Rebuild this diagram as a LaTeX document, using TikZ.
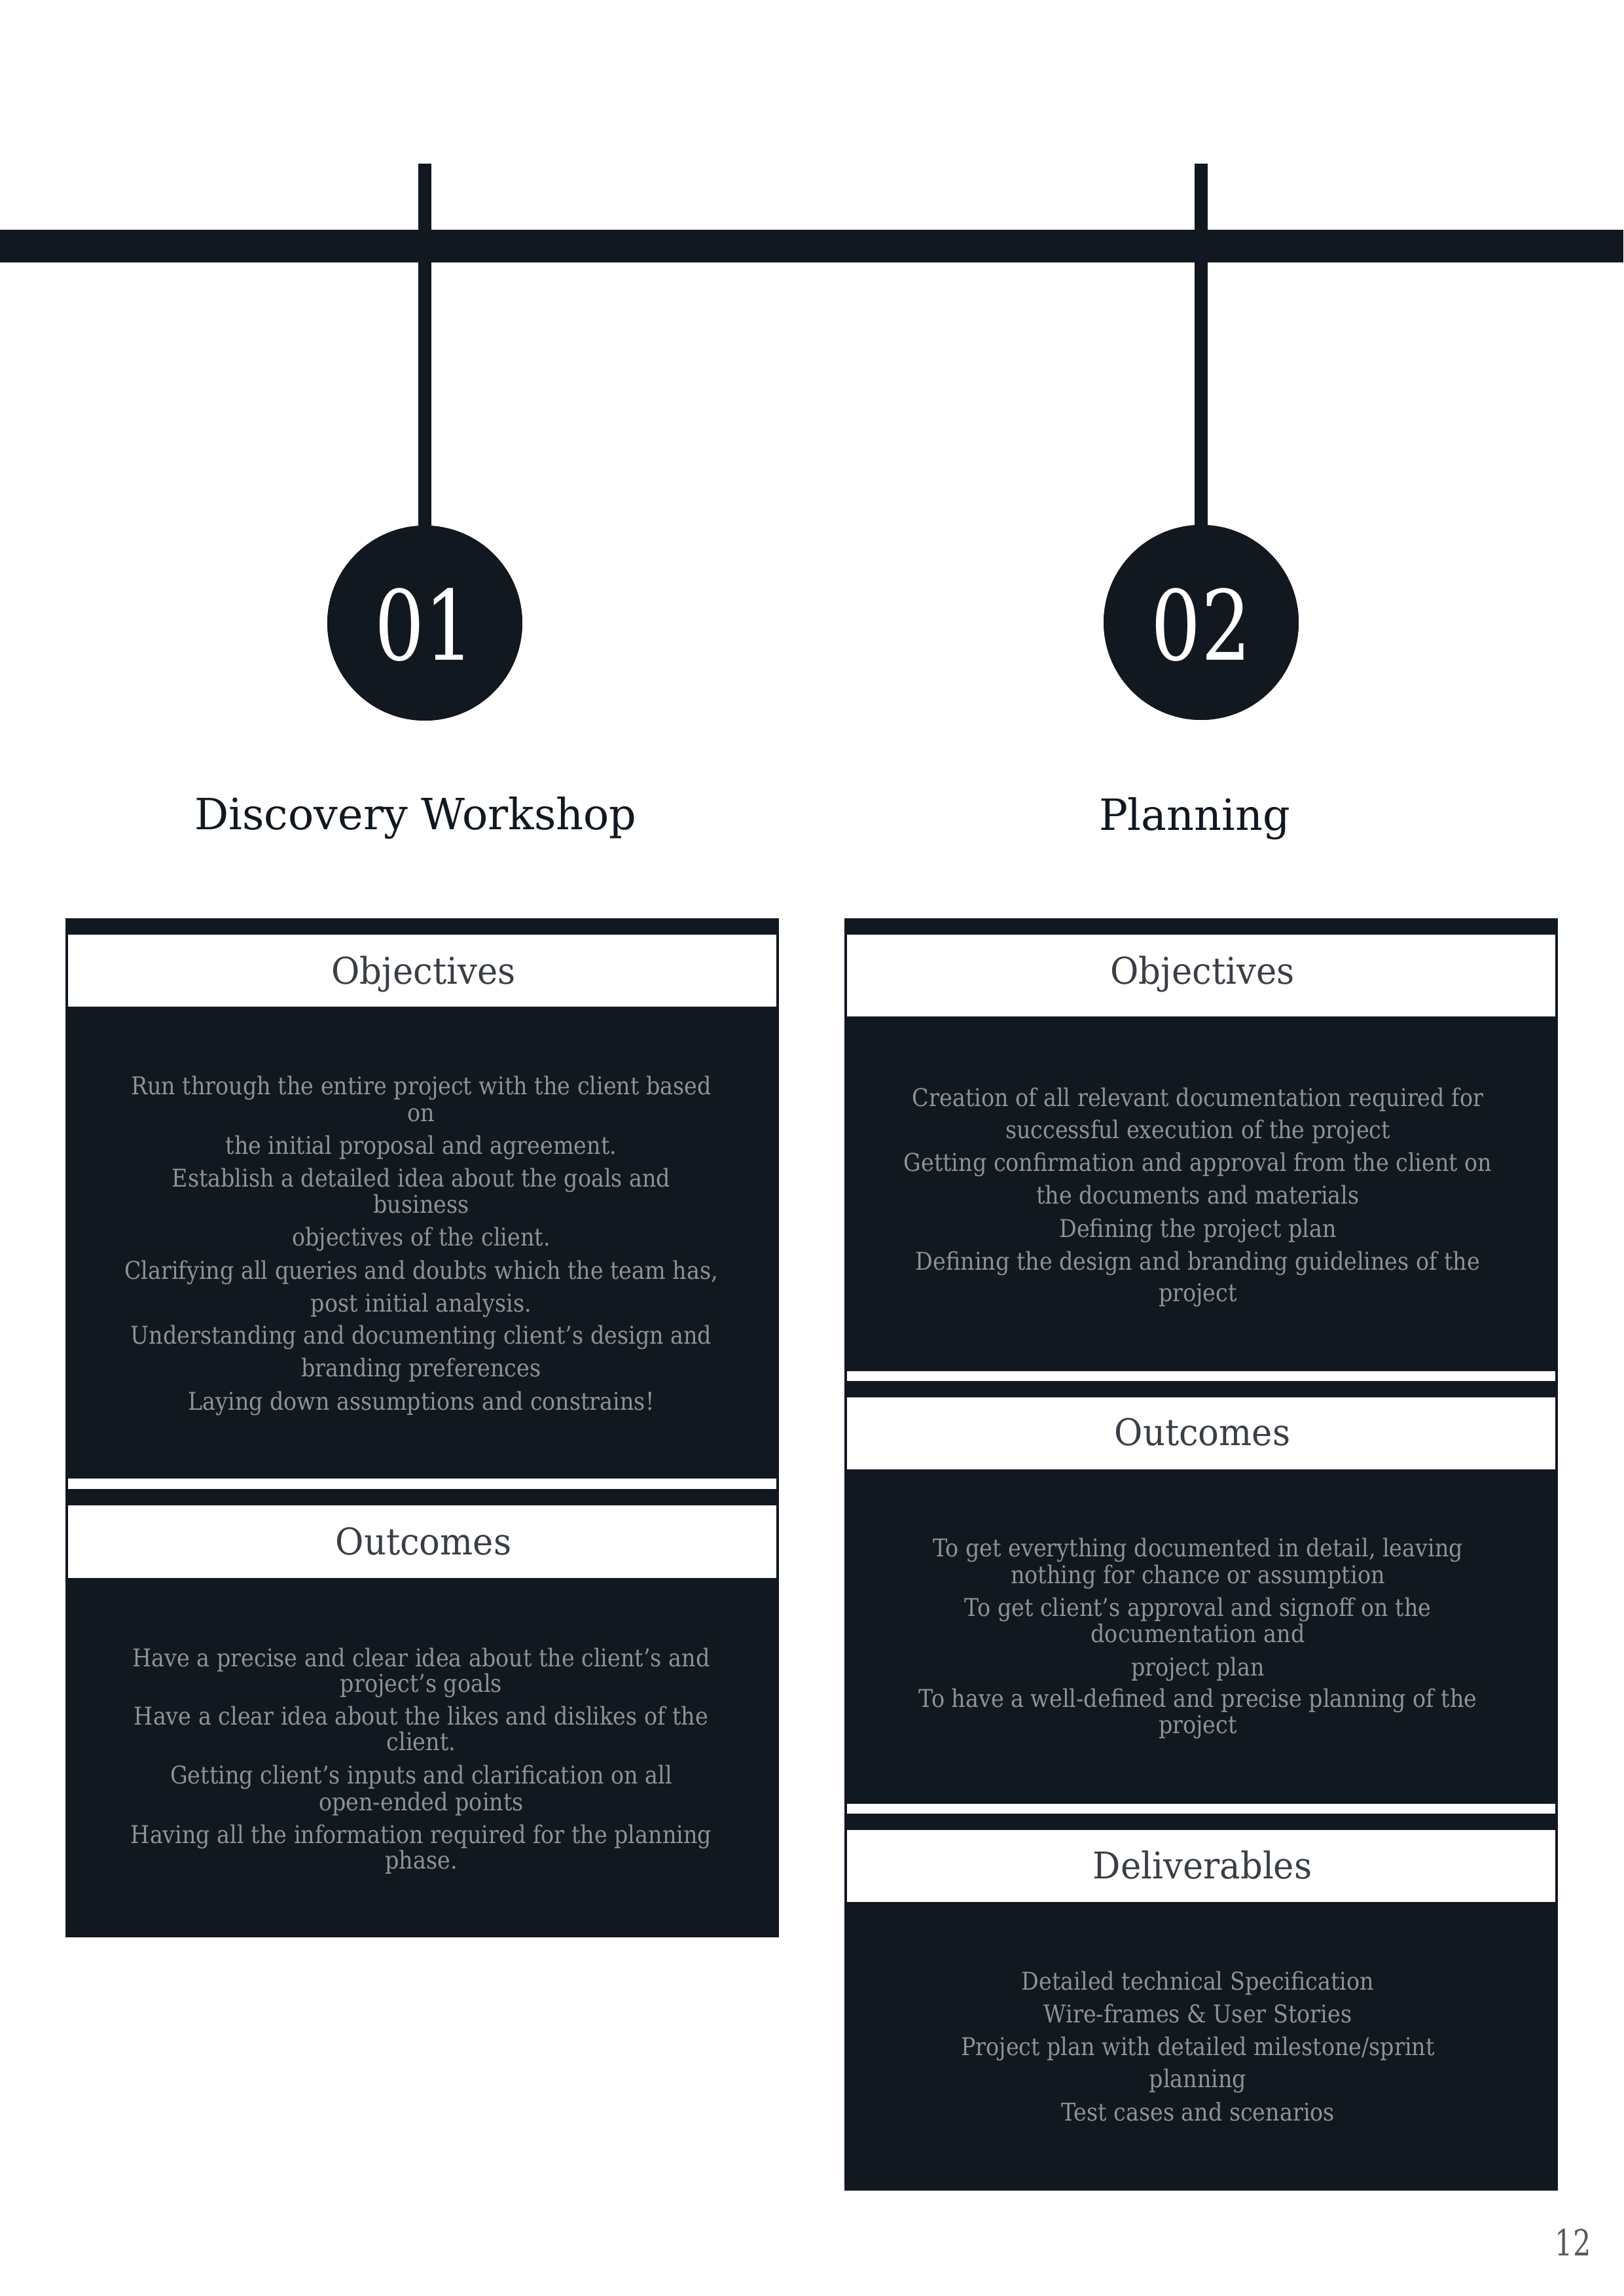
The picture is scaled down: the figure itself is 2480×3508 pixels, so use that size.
\documentclass[tikz,border=0pt]{standalone}
\usepackage{fontspec}
\setmainfont{DejaVu Serif}
\newfontfamily\bodyfont[FakeStretch=0.89]{DejaVu Serif}
\newfontfamily\headfont[FakeStretch=0.99]{DejaVu Serif}
\newfontfamily\labfont[FakeStretch=0.94]{DejaVu Serif}
\newfontfamily\digfont[FakeStretch=0.81]{DejaVu Serif}
\newfontfamily\pgfont[FakeStretch=0.78]{DejaVu Serif}
\definecolor{navy}{HTML}{111820}
\definecolor{bodygrey}{HTML}{909295}
\definecolor{labgrey}{HTML}{3A3F46}
\definecolor{pagegrey}{HTML}{555A60}
\tikzset{
  navyfill/.style={fill=navy},
  whitefill/.style={fill=white},
  stem/.style={draw=navy, line width=4.8pt},
  circ/.style={circle, fill=navy, minimum size=71.5pt, inner sep=0pt},
  digits/.style={font=\digfont\fontsize{35.5pt}{40pt}\selectfont, text=white, inner sep=0pt, anchor=base},
  phase/.style={font=\headfont\fontsize{15.8pt}{19pt}\selectfont, text=navy, inner sep=0pt, anchor=base},
  seclabel/.style={font=\labfont\fontsize{13.5pt}{16pt}\selectfont, text=labgrey, inner sep=0pt, anchor=base},
  bodyline/.style={font=\bodyfont\fontsize{9pt}{10pt}\selectfont, text=bodygrey, inner sep=0pt, anchor=base},
  pagenum/.style={font=\pgfont\fontsize{13.2pt}{16pt}\selectfont, text=pagegrey, inner sep=0pt, anchor=base}
}
\begin{document}
\begin{tikzpicture}[x=0.24pt,y=-0.24pt]
\useasboundingbox (0,0) rectangle (2480,3508);
% timeline bar
\fill[navyfill] (0,351) rectangle (2480,401);
% stems and circles
\coordinate (s1) at (649,250);
\coordinate (s2) at (1835,250);
\node[circ] (c1) at (649,952) {};
\node[circ] (c2) at (1835,951) {};
\draw[stem] (s1) -- (c1.center);
\draw[stem] (s2) -- (c2.center);
\node[circ] (c1b) at (c1) {};
\node[circ] (c2b) at (c2) {};
\node[digits] (d1) at (649,1008) {01};
\node[digits] (d2) at (1835,1008) {02};
% phase titles
\node[phase] (t1) at (635,1267) {Discovery Workshop};
\node[phase] (t2) at (1825,1268) {Planning};
% left panel
\fill[navyfill] (99.6,1403) rectangle (1190,2960);
\fill[whitefill] (104,1428) rectangle (1186,1538);
\fill[whitefill] (104,2259) rectangle (1186,2275);
\fill[whitefill] (104,2300) rectangle (1186,2410.5);
\node[seclabel] (lobj) at (647,1503) {Objectives};
\node[seclabel] (lout) at (647,2375) {Outcomes};
\foreach \y/\t [count=\i] in {
  1672.7/{Run through the entire project with the client based},
  1713/{on},
  1763/{the initial proposal and agreement.},
  1813/{Establish a detailed idea about the goals and},
  1853.5/{business},
  1903.5/{objectives of the client.},
  1954/{Clarifying all queries and doubts which the team has,},
  2004.5/{post initial analysis.},
  2053/{Understanding and documenting client’s design and},
  2103/{branding preferences},
  2154/{Laying down assumptions and constrains!}}
  \node[bodyline] (lo\i) at (643.5,\y) {\t};
\foreach \y/\t [count=\i] in {
  2546/{Have a precise and clear idea about the client’s and},
  2585/{project’s goals},
  2635/{Have a clear idea about the likes and dislikes of the},
  2674/{client.},
  2725/{Getting client’s inputs and clarification on all},
  2766/{open-ended points},
  2816/{Having all the information required for the planning},
  2855/{phase.}}
  \node[bodyline] (lu\i) at (643.5,\y) {\t};
% right panel
\fill[navyfill] (1290,1403) rectangle (2380,3347);
\fill[whitefill] (1294,1428) rectangle (2376,1553);
\fill[whitefill] (1294,2094.5) rectangle (2376,2110);
\fill[whitefill] (1294,2135) rectangle (2376,2245);
\fill[whitefill] (1294,2756) rectangle (2376,2771);
\fill[whitefill] (1294,2796) rectangle (2376,2906);
\node[seclabel] (robj) at (1837,1503) {Objectives};
\node[seclabel] (rout) at (1837,2208.5) {Outcomes};
\node[seclabel] (rdel) at (1837,2870) {Deliverables};
\foreach \y/\t [count=\i] in {
  1690/{Creation of all relevant documentation required for},
  1739/{successful execution of the project},
  1789/{Getting confirmation and approval from the client on},
  1839/{the documents and materials},
  1890/{Defining the project plan},
  1940/{Defining the design and branding guidelines of the},
  1988/{project}}
  \node[bodyline] (ro\i) at (1830,\y) {\t};
\foreach \y/\t [count=\i] in {
  2378/{To get everything documented in detail, leaving},
  2419/{nothing for chance or assumption},
  2469/{To get client’s approval and signoff on the},
  2509/{documentation and},
  2560/{project plan},
  2608/{To have a well-defined and precise planning of the},
  2648/{project}}
  \node[bodyline] (ru\i) at (1830,\y) {\t};
\foreach \y/\t [count=\i] in {
  3040/{Detailed technical Specification},
  3090/{Wire-frames \& User Stories},
  3140.6/{Project plan with detailed milestone/sprint},
  3189.6/{planning},
  3240.6/{Test cases and scenarios}}
  \node[bodyline] (rd\i) at (1830,\y) {\t};
% page number
\node[pagenum] (pg) at (2403,3446) {12};
\end{tikzpicture}
\end{document}
